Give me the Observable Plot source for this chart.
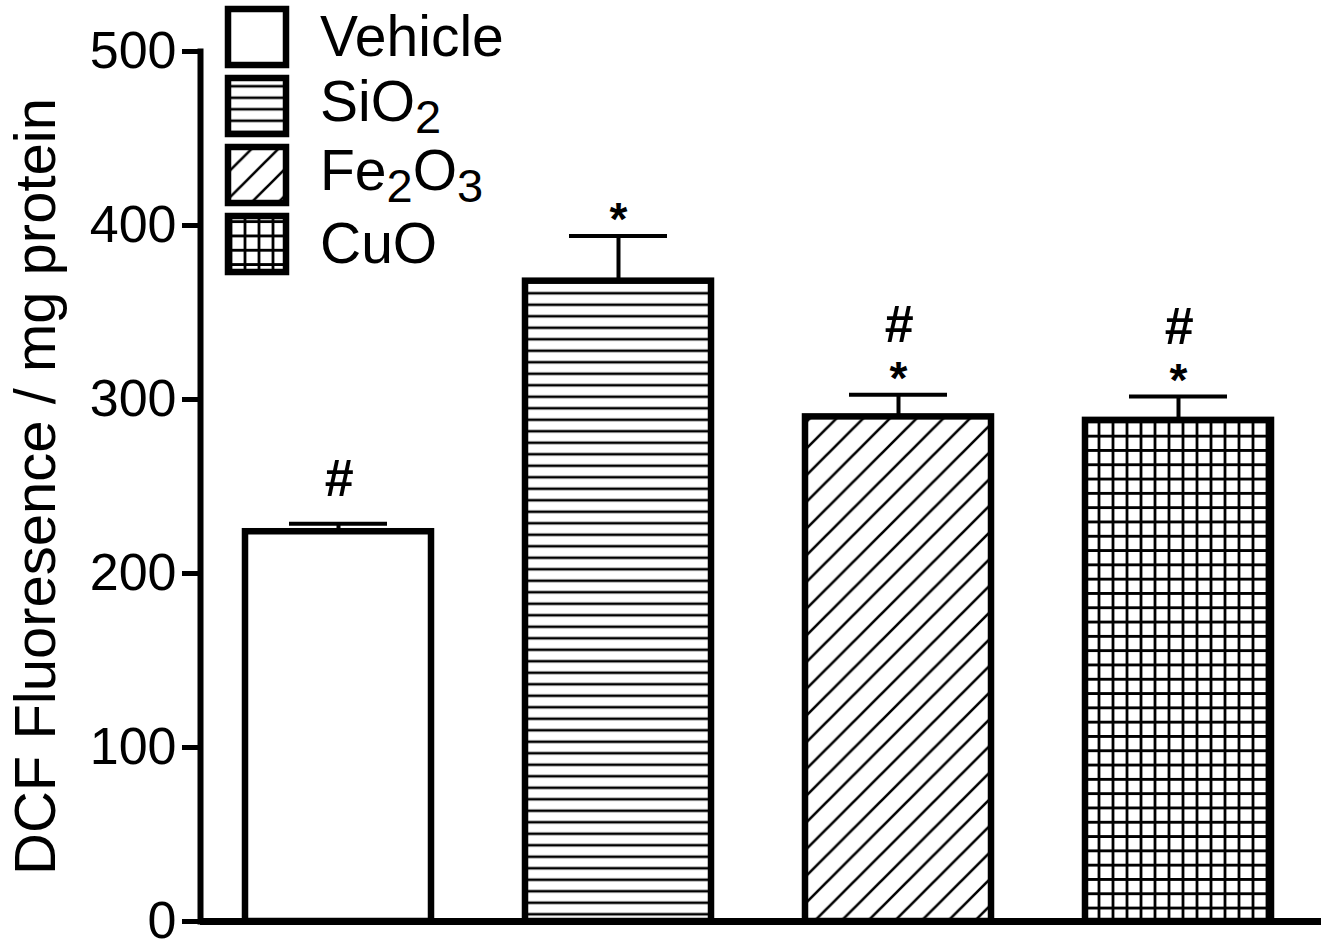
<!DOCTYPE html>
<html>
<head>
<meta charset="utf-8">
<script src="https://cdn.jsdelivr.net/npm/d3@7"></script>
<script src="https://cdn.jsdelivr.net/npm/@observablehq/plot@0.6"></script>
<style>
  body { margin: 0; background: #fff; }
  #wrap { position: relative; width: 1329px; height: 941px; font-family: "Liberation Sans", Arial, sans-serif; }
  #legend { position: absolute; left: 0; top: 0; }
  #defs { position: absolute; width: 0; height: 0; }
  g[aria-label="y-axis label"] { font-size: 58px; }
</style>
</head>
<body>
<svg id="defs" width="0" height="0">
  <defs>
    <pattern id="hatch-h" patternUnits="userSpaceOnUse" width="12" height="11.5">
      <rect width="12" height="11.5" fill="#fff"/>
      <path d="M-1,5.75 H13" stroke="#000" stroke-width="2.6"/>
    </pattern>
    <pattern id="hatch-d" patternUnits="userSpaceOnUse" width="26.7" height="26.7">
      <rect width="26.7" height="26.7" fill="#fff"/>
      <path d="M-2,28.7 L28.7,-2 M-5,5 L5,-5 M21.7,31.7 L31.7,21.7" stroke="#000" stroke-width="2.6"/>
    </pattern>
    <pattern id="hatch-g" patternUnits="userSpaceOnUse" width="14" height="14.3">
      <rect width="14" height="14.3" fill="#fff"/>
      <path d="M7,-1 V15.3 M-1,7.15 H15" stroke="#000" stroke-width="2.8"/>
    </pattern>
  </defs>
</svg>
<div id="wrap"></div>
<script>
// ---- data ----
const groups = ["Vehicle", "SiO2", "Fe2O3", "CuO"];
const means = [224, 368, 290, 288];
const errors = [4.6, 26, 12.7, 13.7];
const starMarks = ["", "*", "*", "*"];
const hashMarks = ["#", "", "#", "#"];
const yTicks = [0, 100, 200, 300, 400, 500];
const yLabel = "DCF Fluoresence / mg protein";
const fills = ["#fff", "url(#hatch-h)", "url(#hatch-d)", "url(#hatch-g)"];
// legend labels: [text, isSubscript]
const legendNames = [
  [["Vehicle", false]],
  [["SiO", false], ["2", true]],
  [["Fe", false], ["2", true], ["O", false], ["3", true]],
  [["CuO", false]]
];

const data = groups.map((g, i) => ({
  group: g, mean: means[i], err: errors[i], top: means[i] + errors[i],
  star: starMarks[i], hash: hashMarks[i]
}));

const plot = Plot.plot({
  width: 1329,
  height: 941,
  marginLeft: 200,
  marginRight: 8,
  marginTop: 51,
  marginBottom: 20,
  style: { fontFamily: '"Liberation Sans", Arial, sans-serif', background: "#fff", color: "#000" },
  x: { domain: groups, paddingInner: 0.336, paddingOuter: 0, insetLeft: 45, insetRight: 50, axis: null },
  y: { domain: [0, 500] },
  color: { domain: groups, range: fills },
  marks: [
    Plot.barY(data, { x: "group", y: "mean", fill: "group", stroke: "#000", strokeWidth: 6.5 }),
    Plot.ruleX(data, { x: "group", y1: "mean", y2: "top", stroke: "#000", strokeWidth: 4 }),
    Plot.tickY(data, { x: "group", y: "top", stroke: "#000", strokeWidth: 4, insetLeft: 44, insetRight: 44 }),
    Plot.text(data.filter(d => d.star), { x: "group", y: "top", text: "star", fontSize: 46, fontWeight: "bold", lineAnchor: "bottom", dy: -1 }),
    Plot.text(data.filter(d => d.hash && !d.star), { x: "group", y: "top", text: "hash", fontSize: 52, fontWeight: "bold", fontStyle: "italic", lineAnchor: "bottom", dy: -28 }),
    Plot.text(data.filter(d => d.hash && d.star), { x: "group", y: "top", text: "hash", fontSize: 52, fontWeight: "bold", fontStyle: "italic", lineAnchor: "bottom", dy: -53 }),
    Plot.axisY({ ticks: yTicks, tickSize: 18, tickPadding: 6, fontSize: 52, strokeWidth: 5,
      label: yLabel, labelAnchor: "center", labelArrow: "none", labelOffset: 187 }),
    Plot.frame({ anchor: "left", strokeWidth: 6 }),
    Plot.ruleY([0], { strokeWidth: 7 })
  ]
});
document.getElementById("wrap").appendChild(plot);

// ---- legend (overlay) ----
const ns = "http://www.w3.org/2000/svg";
const leg = document.createElementNS(ns, "svg");
leg.setAttribute("id", "legend");
leg.setAttribute("width", 600);
leg.setAttribute("height", 300);
const rowCenters = [37, 106, 175, 244];
groups.forEach((g, i) => {
  const c = rowCenters[i];
  const r = document.createElementNS(ns, "rect");
  r.setAttribute("x", 228); r.setAttribute("y", c - 28);
  r.setAttribute("width", 58); r.setAttribute("height", 56);
  r.setAttribute("fill", fills[i]); r.setAttribute("stroke", "#000"); r.setAttribute("stroke-width", 6.5);
  leg.appendChild(r);
  const t = document.createElementNS(ns, "text");
  t.setAttribute("x", 320);
  t.setAttribute("y", c + (legendNames[i].length > 1 ? 15 : 19));
  t.setAttribute("font-size", 57);
  t.setAttribute("font-family", '"Liberation Sans", Arial, sans-serif');
  legendNames[i].forEach(([s, sub]) => {
    const sp = document.createElementNS(ns, "tspan");
    sp.textContent = s;
    if (sub) { sp.setAttribute("font-size", 47); sp.setAttribute("baseline-shift", "-12"); }
    t.appendChild(sp);
  });
  leg.appendChild(t);
});
document.getElementById("wrap").appendChild(leg);
</script>
</body>
</html>
